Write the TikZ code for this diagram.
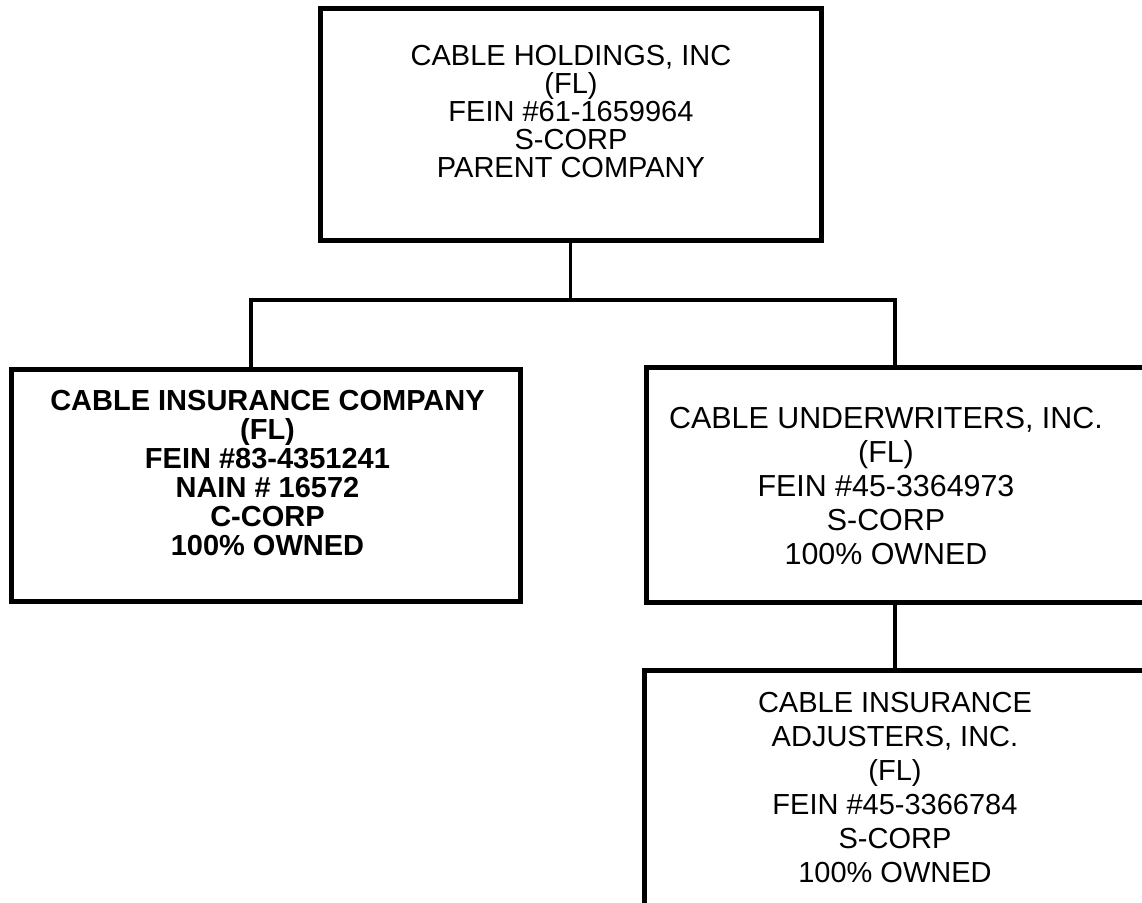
\documentclass[tikz,border=0pt]{standalone}
\usepackage{fontspec}
\setmainfont{Liberation Sans}
\begin{document}
\begin{tikzpicture}[x=0.5pt, y=-0.5pt]
  \tikzset{orgbox/.style = {draw, rectangle, line width=2.5pt, inner sep=0pt}}
  \tikzset{orgtext/.style = {align=center, inner sep=0pt, font=\fontsize{14.5}{#1}\selectfont}}
  \tikzset{boldtext/.style = {align=center, inner sep=0pt, font=\fontsize{14.5}{#1}\selectfont\bfseries}}
  \tikzset{link/.style = {line width=1.8pt}}
  \useasboundingbox (0,0) rectangle (1142,903);
  \clip (0,0) rectangle (1142,903);

  % boxes
  \node[name = hold, orgbox, minimum width=250.5pt, minimum height=116.25pt] at (570.5,124.75) {};
  \node[name = ins, orgbox, minimum width=254.5pt, minimum height=116pt] at (265.5,486) {};
  \node[name = und, orgbox, minimum width=251pt, minimum height=117.5pt] at (897,485.5) {};
  \node[name = adj, orgbox, minimum width=252pt, minimum height=129.5pt] at (896,800.5) {};

  % texts
  \node[name = holdTxt, orgtext=14pt] at (571,111.5)
    {CABLE HOLDINGS, INC\\(FL)\\FEIN \#61-1659964\\S-CORP\\PARENT COMPANY};
  \node[name = insTxt, boldtext=14.5pt] at (267.5,473)
    {CABLE INSURANCE COMPANY\\(FL)\\FEIN \#83-4351241\\NAIN \# 16572\\C-CORP\\100\% OWNED};
  \node[name = undTxt, orgtext=17pt, font=\fontsize{15.2}{17}\selectfont] at (886,486)
    {CABLE UNDERWRITERS, INC.\\(FL)\\FEIN \#45-3364973\\S-CORP\\100\% OWNED};
  \node[name = adjTxt, orgtext=17pt] at (895,788)
    {CABLE INSURANCE\\ADJUSTERS, INC.\\(FL)\\FEIN \#45-3366784\\S-CORP\\100\% OWNED};

  % connectors
  \coordinate (busL) at (251,300);
  \coordinate (busR) at (895,300);
  \draw[link] (hold.south) -- (hold.south |- busL);
  \draw[link] (busL |- ins.north) -- (busL) -- (busR) -- (busR |- und.north);
  \draw[link] (busR |- und.south) -- (busR |- adj.north);
\end{tikzpicture}
\end{document}
